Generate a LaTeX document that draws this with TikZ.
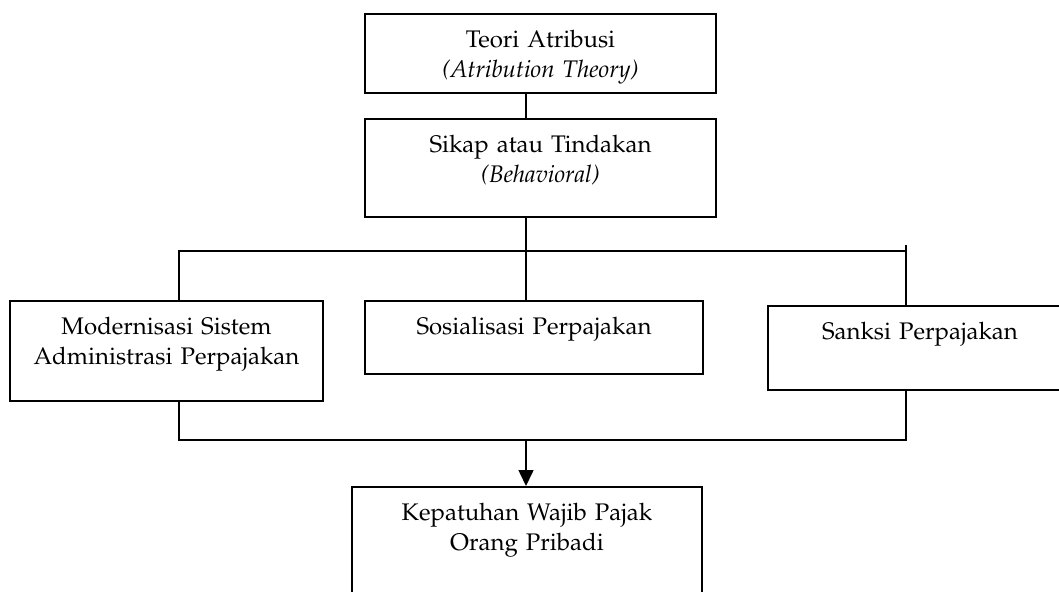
\documentclass[tikz,border=0pt]{standalone}
\usepackage[T1]{fontenc}
\usepackage{mathpazo}
\usepackage{tikz}
\usetikzlibrary{arrows.meta}

\begin{document}
\begin{tikzpicture}[x=0.5pt, y=-0.5pt, line width=0.75pt, % 1 unit = 1 pixel
  kotak/.style n args={2}{draw, anchor=north, align=center, text width=#1, inner xsep=0pt, inner ysep=0pt,
    text height=17pt, text depth=#2, font=\fontsize{12pt}{15pt}\selectfont}] % box: width, depth below first line
  \useasboundingbox (0,0) rectangle (1059,591);
  \clip (0,0) rectangle (1059,591); % right and bottom boxes run off the page

  \node[kotak={175.5pt}{22.5pt}] (teori) at (540.5,13) {Teori Atribusi\\ \textit{(Atribution Theory)}};
  \node[kotak={175.5pt}{32pt}] (sikap) at (540.5,118) {Sikap atau Tindakan\\ \textit{(Behavioral)}};
  \node[kotak={156.5pt}{33pt}] (modern) at (166.5,300) {Modernisasi Sistem\\ Administrasi Perpajakan};
  \node[kotak={169pt}{19.5pt}] (sosial) at (534,300) {Sosialisasi Perpajakan};
  \node[kotak={152pt}{25pt}] (sanksi) at (920,305) {Sanksi Perpajakan};
  \node[kotak={175pt}{53pt}] (patuh) at (527,486) {Kepatuhan Wajib Pajak\\ Orang Pribadi};

  \coordinate (cabang) at (526,251); % branch point
  \coordinate (kiri) at (179,251);
  \coordinate (kanan) at (906,245); % right line sticks out a little above
  \coordinate (gabung) at (526,440); % join point

  \draw (teori.south -| cabang) -- (sikap.north -| cabang);
  \draw (sikap.south -| cabang) -- (sosial.north -| cabang);
  \draw (modern.north -| kiri) -- (kiri) -- (kiri -| kanan);
  \draw (sanksi.north -| kanan) -- (kanan);
  \draw (modern.south -| kiri) |- (gabung) -| (sanksi.south -| kanan);
  \draw[-{Triangle[length=8pt, width=7.5pt]}] (gabung) -- (patuh.north -| gabung); % arrow down
\end{tikzpicture}
\end{document}
